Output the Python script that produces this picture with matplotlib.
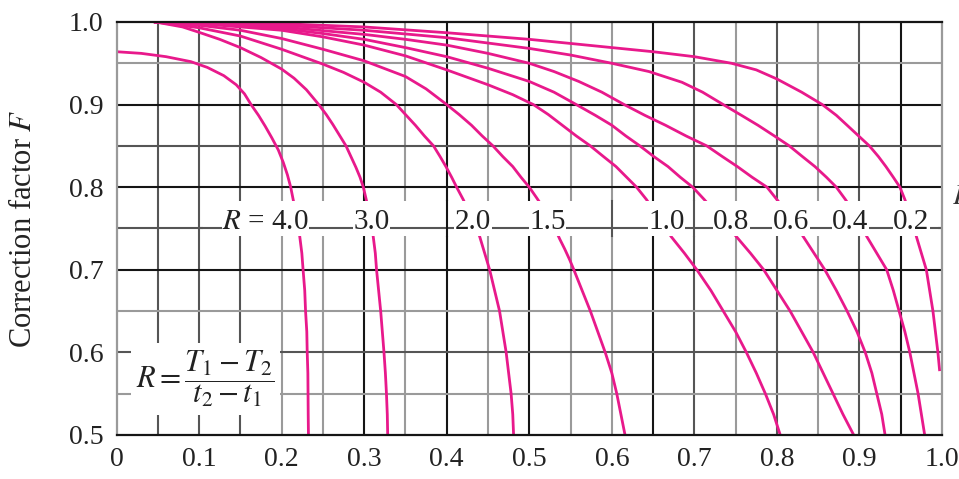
import matplotlib
matplotlib.use('Agg')
import matplotlib.pyplot as plt
from matplotlib.patches import Rectangle

# Fonts: Times-like text and math
plt.rcParams['font.family'] = ['Liberation Serif', 'DejaVu Serif']
plt.rcParams['mathtext.fontset'] = 'stix'

# Curves: P values and correction factor F for each R
p_r40 = [0.0, 0.03, 0.06, 0.09, 0.11, 0.13, 0.145, 0.155, 0.163, 0.172, 0.18, 0.188, 0.196,
         0.202, 0.207, 0.211, 0.215, 0.219, 0.222, 0.2245, 0.226, 0.228, 0.229, 0.2305,
         0.231, 0.2318, 0.232, 0.2322, 0.2325]
f_r40 = [0.964, 0.962, 0.958, 0.952, 0.945, 0.935, 0.924, 0.913, 0.90, 0.887, 0.874, 0.86, 0.845,
         0.83, 0.815, 0.80, 0.78, 0.76, 0.74, 0.72, 0.70, 0.675, 0.65, 0.625,
         0.60, 0.575, 0.55, 0.525, 0.50]

p_r30 = [0.047, 0.08, 0.10, 0.125, 0.15, 0.175, 0.20, 0.215, 0.23, 0.245, 0.254, 0.262, 0.27,
         0.278, 0.284, 0.29, 0.295, 0.299, 0.306, 0.311, 0.3135, 0.315, 0.3175, 0.32,
         0.322, 0.324, 0.3257, 0.327, 0.328, 0.3285]
f_r30 = [1.0, 0.994, 0.9875, 0.979, 0.969, 0.957, 0.943, 0.932, 0.918, 0.90, 0.888, 0.876, 0.863,
         0.85, 0.837, 0.824, 0.812, 0.80, 0.77, 0.74, 0.72, 0.70, 0.675, 0.65,
         0.625, 0.60, 0.575, 0.55, 0.525, 0.50]

p_r20 = [0.047, 0.10, 0.15, 0.20, 0.25, 0.275, 0.30, 0.32, 0.339, 0.35, 0.362, 0.373, 0.384,
         0.392, 0.399, 0.406, 0.412, 0.42, 0.427, 0.434, 0.44, 0.446, 0.452, 0.458, 0.464,
         0.468, 0.472, 0.475, 0.478, 0.48, 0.481]
f_r20 = [1.0, 0.993, 0.983, 0.967, 0.949, 0.939, 0.927, 0.915, 0.90, 0.888, 0.875, 0.862, 0.85,
         0.837, 0.825, 0.812, 0.80, 0.785, 0.77, 0.755, 0.74, 0.72, 0.70, 0.675, 0.65,
         0.625, 0.60, 0.575, 0.55, 0.525, 0.50]

p_r15 = [0.047, 0.10, 0.15, 0.20, 0.25, 0.30, 0.35, 0.375, 0.40, 0.415, 0.43, 0.443, 0.456,
         0.468, 0.48, 0.49, 0.50, 0.509, 0.517, 0.524, 0.531, 0.537, 0.543, 0.549, 0.554,
         0.564, 0.574, 0.583, 0.592, 0.60, 0.606, 0.611, 0.616]
f_r15 = [1.0, 0.996, 0.99, 0.98, 0.967, 0.953, 0.934, 0.919, 0.90, 0.888, 0.875, 0.862, 0.85,
         0.837, 0.825, 0.812, 0.80, 0.787, 0.775, 0.762, 0.75, 0.737, 0.725, 0.712, 0.70,
         0.675, 0.65, 0.625, 0.60, 0.575, 0.55, 0.525, 0.50]

p_r10 = [0.047, 0.10, 0.20, 0.25, 0.30, 0.35, 0.40, 0.45, 0.48, 0.505, 0.523, 0.54, 0.557,
         0.574, 0.59, 0.605, 0.618, 0.63, 0.642, 0.652, 0.662, 0.672, 0.688, 0.703, 0.72,
         0.735, 0.75, 0.763, 0.775, 0.786, 0.796, 0.804]
f_r10 = [1.0, 0.998, 0.99, 0.982, 0.972, 0.959, 0.942, 0.924, 0.912, 0.90, 0.888, 0.875, 0.862,
         0.85, 0.837, 0.825, 0.812, 0.80, 0.785, 0.77, 0.755, 0.74, 0.72, 0.70, 0.675,
         0.65, 0.625, 0.60, 0.575, 0.55, 0.525, 0.50]

p_r08 = [0.047, 0.10, 0.20, 0.25, 0.30, 0.35, 0.40, 0.45, 0.50, 0.53, 0.557, 0.58, 0.60,
         0.617, 0.634, 0.651, 0.668, 0.683, 0.698, 0.712, 0.725, 0.738, 0.751, 0.768, 0.784,
         0.80, 0.816, 0.83, 0.844, 0.856, 0.868, 0.88, 0.893]
f_r08 = [1.0, 0.999, 0.992, 0.986, 0.979, 0.969, 0.958, 0.944, 0.928, 0.915, 0.90, 0.887, 0.875,
         0.862, 0.85, 0.837, 0.825, 0.812, 0.80, 0.785, 0.77, 0.755, 0.74, 0.72, 0.70,
         0.675, 0.65, 0.625, 0.60, 0.575, 0.55, 0.525, 0.50]

p_r06 = [0.047, 0.10, 0.20, 0.30, 0.35, 0.40, 0.45, 0.50, 0.53, 0.56, 0.588, 0.615, 0.64,
         0.665, 0.69, 0.715, 0.734, 0.752, 0.77, 0.788, 0.80, 0.812, 0.822, 0.832, 0.845,
         0.858, 0.872, 0.885, 0.897, 0.907, 0.915, 0.921, 0.927, 0.931]
f_r06 = [1.0, 0.999, 0.994, 0.985, 0.979, 0.972, 0.962, 0.95, 0.94, 0.928, 0.915, 0.90, 0.887,
         0.875, 0.862, 0.85, 0.837, 0.825, 0.812, 0.80, 0.785, 0.77, 0.755, 0.74, 0.72,
         0.70, 0.675, 0.65, 0.625, 0.60, 0.575, 0.55, 0.525, 0.50]

p_r04 = [0.047, 0.10, 0.20, 0.30, 0.40, 0.50, 0.55, 0.60, 0.645, 0.685, 0.71, 0.735, 0.757,
         0.777, 0.797, 0.815, 0.831, 0.846, 0.86, 0.872, 0.883, 0.893, 0.901, 0.909, 0.921,
         0.933, 0.941, 0.948, 0.955, 0.961, 0.966, 0.971, 0.975, 0.979]
f_r04 = [1.0, 1.0, 0.996, 0.99, 0.981, 0.968, 0.96, 0.95, 0.94, 0.927, 0.915, 0.90, 0.887,
         0.875, 0.862, 0.85, 0.837, 0.825, 0.812, 0.80, 0.785, 0.77, 0.755, 0.74, 0.72,
         0.70, 0.675, 0.65, 0.625, 0.60, 0.575, 0.55, 0.525, 0.50]

p_r02 = [0.047, 0.10, 0.20, 0.30, 0.40, 0.50, 0.60, 0.65, 0.70, 0.745, 0.775, 0.80, 0.83,
         0.855, 0.872, 0.885, 0.899, 0.912, 0.923, 0.932, 0.941, 0.949, 0.955, 0.96, 0.965,
         0.969, 0.975, 0.981, 0.985, 0.989, 0.992, 0.995, 0.997]
f_r02 = [1.0, 1.0, 0.998, 0.994, 0.987, 0.979, 0.969, 0.964, 0.958, 0.95, 0.942, 0.931, 0.915,
         0.90, 0.887, 0.875, 0.862, 0.85, 0.837, 0.825, 0.812, 0.80, 0.785, 0.77, 0.755,
         0.74, 0.72, 0.70, 0.675, 0.65, 0.625, 0.60, 0.579]

curves = [(p_r40, f_r40), (p_r30, f_r30), (p_r20, f_r20), (p_r15, f_r15),
          (p_r10, f_r10), (p_r08, f_r08), (p_r06, f_r06), (p_r04, f_r04),
          (p_r02, f_r02)]

# Curve labels along the band and where each one starts (P)
band_labels = ['$R$ = 4.0', '3.0', '2.0', '1.5', '1.0', '0.8', '0.6', '0.4', '0.2']
band_label_p = [0.128, 0.287, 0.41, 0.50, 0.644, 0.723, 0.795, 0.867, 0.941]

# Ticks
x_ticks = [0.0, 0.1, 0.2, 0.3, 0.4, 0.5, 0.6, 0.7, 0.8, 0.9, 1.0]
x_tick_labels = ['0', '0.1', '0.2', '0.3', '0.4', '0.5', '0.6', '0.7', '0.8', '0.9', '1.0']
y_ticks = [0.5, 0.6, 0.7, 0.8, 0.9, 1.0]
y_tick_labels = ['0.5', '0.6', '0.7', '0.8', '0.9', '1.0']

# Grid lines (scanned chart, mixed shades)
black_v = [0.3, 0.4, 0.5, 0.65, 0.95]
mid_v = [0.05, 0.1, 0.15, 0.7, 0.8, 0.9]
light_v = [0.2, 0.25, 0.35, 0.45, 0.55, 0.6, 0.75, 0.85]
black_h = [0.9, 0.8, 0.7]
mid_h = [0.85, 0.75, 0.6]
light_h = [0.95, 0.65, 0.55]

pink = '#e8198b'
black = '#151515'
mid = '#555555'
light = '#9a9a9a'

fig = plt.figure(figsize=(9.59, 4.79), dpi=100)
ax = fig.add_axes([0.1215, 0.0919, 0.8608, 0.8622])
ax.set_xlim(0, 1)
ax.set_ylim(0.5, 1.0)

# Grid
for x in light_v:
    ax.axvline(x, color=light, lw=1.5, zorder=1)
for x in mid_v:
    ax.axvline(x, color=mid, lw=1.5, zorder=1)
for x in black_v:
    ax.axvline(x, color=black, lw=1.5, zorder=1)
for y in light_h:
    ax.axhline(y, color=light, lw=1.5, zorder=1)
for y in mid_h:
    ax.axhline(y, color=mid, lw=1.5, zorder=1)
for y in black_h:
    ax.axhline(y, color=black, lw=1.5, zorder=1)

# Curves
for ps, fs in curves:
    ax.plot(ps, fs, color=pink, lw=2.0, solid_joinstyle='round', zorder=2)

# White band for the curve labels
ax.add_patch(Rectangle((0.105, 0.741), 0.89, 0.042, facecolor='white',
                       edgecolor='none', zorder=3))
ax.plot([0.1, 1.0], [0.75, 0.75], color=mid, lw=1.5, zorder=3.5)
for x in [0.4, 0.6, 0.7]:
    ax.plot([x, x], [0.741, 0.783], color=black if x == 0.4 else mid, lw=1.5, zorder=3.5)

for lab, p in zip(band_labels, band_label_p):
    ax.text(p, 0.7495, lab, fontsize=21, ha='left', va='baseline', color='#222222',
            zorder=5, bbox=dict(facecolor='white', edgecolor='none', pad=0.5))

# Definition of R
ax.text(0.108, 0.568, r'$R = \dfrac{T_1 - T_2}{t_2 - t_1}$', fontsize=22,
        ha='center', va='center', color='#222222', zorder=5,
        bbox=dict(facecolor='white', edgecolor='none', pad=4))

# Cut-off text at the right edge
fig.text(0.993, 0.575, '$P$', fontsize=21, ha='left', va='baseline', color='#333333')

# Axes styling
ax.set_xticks(x_ticks)
ax.set_xticklabels(x_tick_labels, fontsize=20)
ax.set_yticks(y_ticks)
ax.set_yticklabels(y_tick_labels, fontsize=20)
ax.tick_params(axis='both', length=0, colors='#222222')
ax.tick_params(axis='x', pad=8.5)
ax.tick_params(axis='y', pad=9.5)

ax.spines['top'].set_color(black)
ax.spines['bottom'].set_color(black)
ax.spines['left'].set_color(light)
ax.spines['right'].set_color(light)
for s in ax.spines.values():
    s.set_linewidth(1.6)
    s.set_zorder(4)

ax.set_ylabel('Correction factor $F$', fontsize=22, color='#222222')
ax.yaxis.set_label_coords(-0.095, 0.5)

fig.savefig('out.png', dpi=100)
